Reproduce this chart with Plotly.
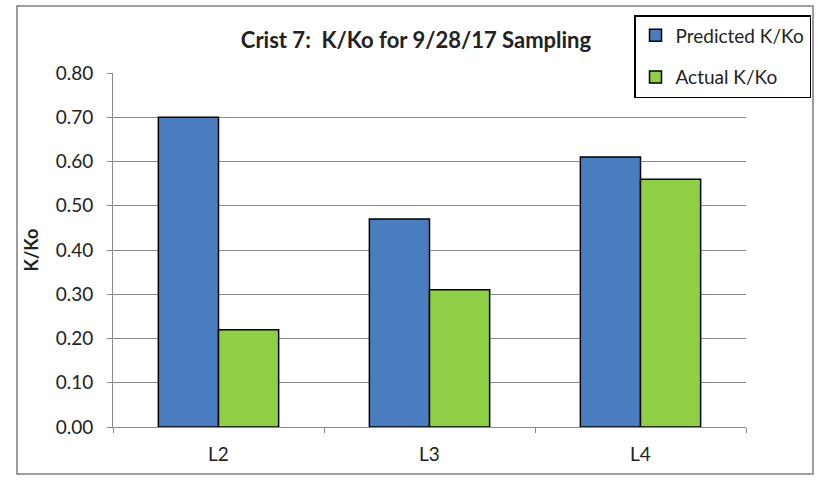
import plotly.graph_objects as go

# data
locations = ["L2", "L3", "L4"]
predicted = [0.70, 0.47, 0.61]
actual = [0.22, 0.31, 0.56]
y_ticks = [0.0, 0.1, 0.2, 0.3, 0.4, 0.5, 0.6, 0.7, 0.8]

font_family = "Lato, 'Open Sans', sans-serif"

# figure fills the window (body margin removed below), so pixel = screen
FW, FH = 817, 480
L, R, T, B = 113, 746, 73, 427
W, H = R - L, B - T


def px_x(x):
    return (x - L) / W


def px_y(y):
    return (B - y) / H


fig = go.Figure()
fig.add_trace(
    go.Bar(
        x=locations,
        y=predicted,
        name="Predicted K/Ko",
        marker_color="#4a7dbf",
        marker_line_color="black",
        marker_line_width=1.5,
        legendgroup="a",
    )
)
fig.add_trace(
    go.Bar(
        x=locations,
        y=actual,
        name="Actual K/Ko",
        marker_color="#8fcf45",
        marker_line_color="black",
        marker_line_width=1.5,
        legendgroup="b",
    )
)

fig.update_layout(
    width=FW,
    height=FH,
    margin=dict(l=L, r=FW - R, t=T, b=FH - B, autoexpand=False),
    paper_bgcolor="white",
    plot_bgcolor="white",
    barmode="group",
    bargap=0.43,
    bargroupgap=0,
    font=dict(family=font_family, size=19, color="#222"),
    showlegend=True,
    legend=dict(
        x=px_x(811),
        y=px_y(15),
        xanchor="right",
        yanchor="top",
        bgcolor="white",
        bordercolor="black",
        borderwidth=1.5,
        font=dict(size=19, color="#222"),
        tracegroupgap=14,
        traceorder="grouped",
        itemwidth=30,
    ),
    title=dict(
        text="<b>Crist 7:  K/Ko for 9/28/17 Sampling</b>",
        x=416 / FW,
        xanchor="center",
        y=1 - 40 / FH,
        yanchor="middle",
        font=dict(size=22, color="#222"),
    ),
)

fig.update_yaxes(
    range=[0, 0.8],
    tickvals=y_ticks,
    tickformat=".2f",
    showgrid=True,
    gridcolor="#8a8a8a",
    gridwidth=1,
    showline=True,
    linecolor="#8a8a8a",
    ticks="outside",
    ticklen=5,
    tickcolor="#8a8a8a",
    zeroline=False,
    tickfont=dict(size=19),
    ticklabelstandoff=10,
    title=dict(text="<b>K/Ko</b>", font=dict(size=18), standoff=12),
)
fig.update_xaxes(
    showline=True,
    linecolor="#8a8a8a",
    ticks="outside",
    tickson="boundaries",
    ticklen=5,
    tickcolor="#8a8a8a",
    tickfont=dict(size=19),
    ticklabelstandoff=10,
    showgrid=False,
)

# outer chart border
fig.add_shape(
    type="rect",
    xref="paper",
    yref="paper",
    x0=px_x(17),
    x1=px_x(813),
    y0=px_y(474),
    y1=px_y(6),
    line=dict(color="#7f7f7f", width=1.5),
    layer="below",
)

fig.write_html(
    "out.html",
    config={"displayModeBar": False},
    post_script="document.body.style.margin = '0';",
)
